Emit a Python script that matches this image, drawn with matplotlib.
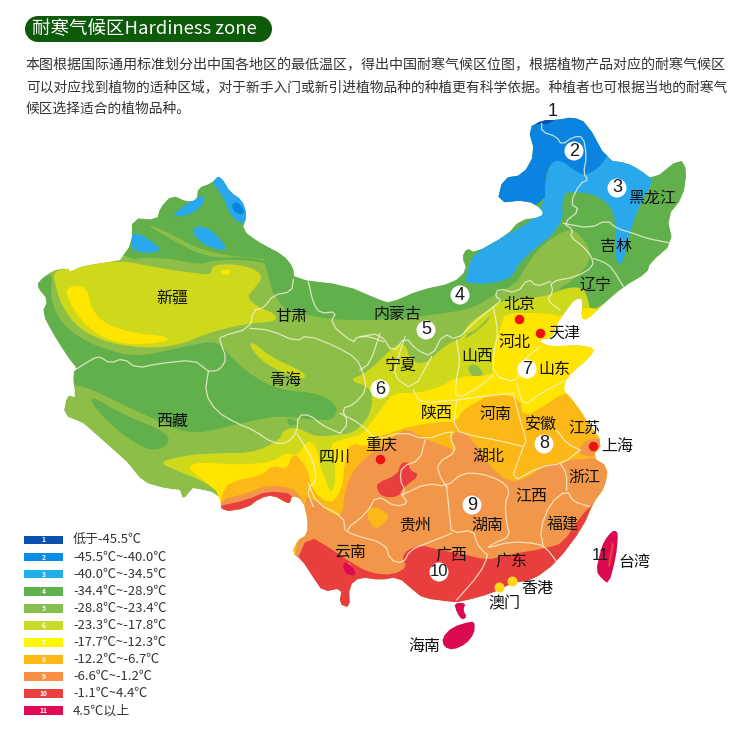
import numpy as np
import matplotlib
matplotlib.use("Agg")
import matplotlib.pyplot as plt
from matplotlib.patches import Polygon, Rectangle, Circle

plt.rcParams['font.family'] = ['Noto Sans CJK SC', 'DejaVu Sans']

# ---------- legend ----------
zone_ids = ['1','2','3','4','5','6','7','8','9','10','11']
zone_ranges = ['低于-45.5℃','-45.5℃~-40.0℃','-40.0℃~-34.5℃','-34.4℃~-28.9℃','-28.8℃~-23.4℃',
               '-23.3℃~-17.8℃','-17.7℃~-12.3℃','-12.2℃~-6.7℃','-6.6℃~-1.2℃','-1.1℃~4.4℃','4.5℃以上']
legend_colors = ['#0B52AE','#0A8CE4','#1FB0EC','#5FB24E','#86BE50','#C9DA2B','#FFF700','#FCB816','#F98F45','#E8403F','#DE0A52']
C = {1:'#0B4FAE',2:'#0A84E0',3:'#29A9EB',4:'#62B04B',5:'#8DBE47',6:'#CFD91C',7:'#FFE500',8:'#FBB816',9:'#F2964A',10:'#E93E3E',11:'#D90A50'}

# ---------- text ----------
title = '耐寒气候区Hardiness zone'
body = ['本图根据国际通用标准划分出中国各地区的最低温区，得出中国耐寒气候区位图，根据植物产品对应的耐寒气候区',
        '可以对应找到植物的适种区域，对于新手入门或新引进植物品种的种植更有科学依据。种植者也可根据当地的耐寒气',
        '候区选择适合的植物品种。']
body_sizes = [10.12, 9.9, 9.9]
province_names = ['新疆','甘肃','内蒙古','宁夏','青海','西藏','四川','重庆','陕西','河南','山西','河北','山东','北京','天津','辽宁','吉林','黑龙江','安徽','江苏','上海','湖北','浙江','江西','福建','湖南','贵州','云南','广西','广东','香港','澳门','海南','台湾']
province_x = [172,291,397,401,285,172,335,381,437,496,477,515,554,519,564,596,616,652,541,584,617,488,584,531,563,487,415,350,451,511,537,504,424,634]
province_y = [298,316,314,365,380,421,457,445,413,414,356,342,369,304,333,285,247,198,425,428,446,456,477,496,525,525,525,552,555,561,589,604,646,562]
marker_labels = ['1','2','3','4','5','6','7','8','9','10','11']
marker_x = [553,574,617,460,426,380,527,544,472,439,600]
marker_y = [112,151,188,295,330,389,369,444,505,572,556]
marker_circle = [0,1,1,1,1,1,1,1,1,1,0]
red_x, red_y = [519,540,380,593], [319,333,459,446]
yel_x, yel_y = [499,512], [587,581]

# ---------- map shapes (figure pixels, or crop coordinates via the helpers) ----------
def z3(p): return [(20+x/3, 160+y/3) for x, y in p]
def z4(p): return [(360+x/3, 100+y/3) for x, y in p]
def z5(p): return [(280+x/3, 380+y/3) for x, y in p]

outline = [(38,282),(53,270),(68,268),(70,272),(82,266),(120,260),(132,243),(132,218),(157,220),(160,208),(172,195),(187,202),(197,200),(198,188),(212,183),(218,176),(223,180),(230,192),(242,200),(247,215),(242,230),(260,243),(283,255),(293,267),(294,279),(345,285),(380,300),(390,303),(420,290),(453,283),(467,270),(462,257),(467,248),(475,253),(507,235),(520,220),(542,217),(543,210),(527,200),(497,203),(503,178),(523,175),(535,153),(528,128),(543,120),(557,120),(573,117),(587,123),(607,160),(627,163),(640,170),(653,180),(680,158),(687,170),(683,197),(667,217),(673,243),(650,263),(647,273),(623,287),(600,307),(587,320),(581,318),(583,298),(574,300),(566,311),(556,325),(552,338),(537,340),(550,347),(577,345),(595,348),(590,357),(567,377),(563,390),(570,397),(580,410),(588,423),(603,443),(592,457),(608,467),(605,487),(593,503),(583,527),(557,562),(533,580),(512,583),(493,593),(460,602),(452,602),(423,598),(413,590),(398,577),(380,580),(360,577),(349,586),(350,608),(339,604),(342,588),(323,592),(313,577),(302,560),(292,553),(298,540),(307,535),(308,520),(303,500),(292,495),(290,503),(287,503),(273,495),(260,498),(247,508),(222,512),(220,498),(212,492),(193,488),(183,500),(180,490),(163,488),(143,482),(127,462),(100,438),(83,423),(63,415),(67,395),(75,397),(73,373),(77,368),(70,360),(55,337),(42,313),(48,300),(38,288)]

z4_xj_north = z3([(290,300),(420,290),(540,315),(580,300),(700,300),(770,320),(780,350),(830,365),(900,100),(300,-100),(200,100)])
z5_xj_strip = z3([(375,190),(440,215),(560,280),(770,300),(775,315),(690,290),(560,295),(430,225)])
z4_sw = z3([(30,365),(100,335),(90,400),(110,470),(170,530),(260,570),(350,590),(450,570),(560,545),(600,550),(640,600),(700,650),(780,690),(900,700),(955,740),(940,780),(880,780),(810,770),(760,770),(660,790),(520,825),(430,790),(300,730),(165,665),(100,700),(30,600)])
z4_tibet = z3([(210,705),(300,760),(450,820),(440,860),(390,875),(300,820),(220,740)])
z4_blob = z3([(800,770),(840,790),(805,800)])
z4_north = z4([(-300,610),(-100,660),(40,660),(130,655),(250,640),(340,625),(410,580),(470,550),(490,510),(540,440),(620,385),(660,400),(700,470),(650,535),(580,575),(660,560),(670,620),(670,650),(800,620),(1200,400),(1200,-100),(-300,-100)])
z3_blobs = [z3([(340,210),(420,260),(415,278),(350,278),(330,255)]),
            z3([(460,165),(500,130),(555,100),(550,135),(510,165),(465,170)]),
            z3([(520,200),(560,200),(600,235),(625,275),(560,260),(520,225)]),
            z3([(575,68),(595,30),(625,80),(670,115),(695,170),(665,195),(630,165),(610,110)])]
z2_blob = z3([(635,130),(655,125),(675,155),(665,165),(640,155)])
z3_north = z4([(315,555),(450,545),(480,480),(610,380),(605,280),(650,275),(710,285),(765,330),(765,440),(770,490),(790,490),(805,410),(840,310),(885,240),(860,100),(600,100),(555,240),(555,290),(530,360),(345,450),(320,520)])
z2_north = z4([(380,-150),(900,-150),(745,178),(680,230),(640,210),(600,178),(570,190),(555,240),(555,320),(300,360)])
z1_north = z4([(520,72),(550,58),(590,55),(565,72),(545,72)])

z6_tarim = z3([(100,335),(145,325),(185,318),(300,300),(420,325),(530,340),(575,345),(575,315),(640,312),(700,325),(730,350),(700,390),(680,410),(710,440),(765,460),(770,485),(680,490),(560,520),(480,555),(380,565),(270,550),(180,510),(125,440),(105,370)])
z6_qh = z3([(685,550),(705,550),(750,590),(860,640),(850,660),(790,640),(720,600)])
z6_main = [(158,462),(187,455),(220,453),(253,453),(280,440),(283,430),(297,427),(315,437),(337,435),(353,433),(367,420),(373,403),(370,387),(348,380),(367,373),(395,345),(405,343),(410,360),(425,365),(445,345),(463,338),(466,325),(495,305),(505,300),(545,297),(565,288),(582,287),(588,298),(590,312),(610,300),(640,340),(640,560),(240,560),(222,495),(205,482),(175,470)]
z5_shanxi = z4([(315,720),(380,670),(395,640),(350,690),(320,700)])
z5_shanxi2 = z4([(318,800),(350,790),(375,830),(345,840)])
z6_sx = z5([(300,0),(350,-10),(345,30),(320,55)])
z7_sw = [(187,467),(200,462),(237,465),(273,462),(287,452),(297,457),(307,440),(317,447),(321,470),(327,482),(332,470),(330,445),(340,440),(353,437),(363,433),(373,420),(383,407),(393,393),(417,393),(440,387),(457,377),(493,375),(492,367),(493,348),(502,323),(505,313),(547,313),(560,317),(587,307),(600,310),(640,340),(640,560),(225,560),(222,495),(200,478)]
z6_sc = z3([(900,900),(930,1005),(948,970),(942,880),(915,870)])
z8_main = [(220,505),(222,493),(230,482),(263,475),(272,465),(287,470),(293,452),(307,467),(312,490),(330,505),(342,490),(345,460),(350,443),(367,447),(377,437),(400,430),(407,427),(437,422),(457,422),(462,410),(493,393),(520,398),(523,417),(543,407),(563,393),(573,397),(620,440),(620,560),(222,560)]
z9_main = [(303,495),(320,503),(330,513),(342,517),(345,490),(352,473),(360,463),(373,452),(383,445),(393,437),(407,428),(420,437),(447,447),(457,452),(450,437),(460,430),(473,440),(490,467),(510,483),(530,477),(543,465),(563,463),(568,460),(595,458),(640,460),(640,600),(290,600)]
z9_tibet = z3([(600,1020),(680,1000),(745,975),(820,985),(850,1020),(860,1070),(600,1070)])
z9_sh = [(576,453),(588,438),(608,440),(596,458)]
z8_gz = z5([(270,380),(300,385),(330,410),(310,430),(285,450),(260,410)])
z10_main = [(295,565),(308,535),(333,550),(350,562),(370,573),(393,575),(407,567),(402,558),(407,550),(420,545),(440,550),(467,555),(487,560),(507,555),(547,548),(563,543),(580,517),(595,502),(620,513),(620,620),(295,620)]
z10_tibet = [(215,507),(247,500),(267,491),(295,494),(295,515),(215,520)]
z10_gz = [(377,483),(397,475),(401,463),(408,462),(410,470),(420,475),(403,488),(398,497),(383,497),(377,490)]
z9_yn = [(345,563),(351,563),(353,576),(348,575)]
z11_yn = [(344,561),(353,567),(356,575),(349,576),(343,569)]
leizhou = [(454,603),(466,603),(463,610),(467,617),(462,620),(457,613)]
hainan = [(442,638),(452,627),(472,621),(475,624),(474,634),(466,644),(453,650),(444,647)]
taiwan = [(596,571),(600,553),(604,541),(612,531),(617,531),(618,537),(616,557),(609,584),(602,579)]
taiwan_in = [(612,541),(608,566),(610,567),(614,545)]

borders = [
 z3([(165,630),(220,595),(240,590),(270,610),(310,595),(350,625),(420,610),(520,600),(555,625),(565,635),(600,630),(620,595),(600,545),(600,530),(690,505),(700,450),(730,445),(760,405),(815,395),(820,358)]),
 z3([(565,635),(555,700),(590,755),(650,790),(700,810),(760,850),(800,850),(830,820),(835,765),(870,765),(905,795),(960,820)]),
 z3([(690,505),(750,510),(830,545),(860,525),(950,560),(1010,595),(1030,640),(1040,690),(1000,735),(965,745),(985,790),(960,820)]),
 z3([(830,820),(880,900),(890,960),(860,990),(880,1040)]),
 z3([(865,365),(880,430),(900,460),(950,455),(930,490),(1000,550),(1010,530),(1050,530),(1090,545)]),
 z4([(545,70),(545,95),(590,110),(605,135),(640,110),(670,110),(680,170),(670,220),(685,240),(660,250),(630,310),(660,330),(610,370),(640,390),(630,410),(670,440),(695,470),(700,500),(650,530),(570,545),(580,575),(560,600),(600,630)]),
 z4([(610,370),(690,385),(740,360),(770,385),(820,400),(860,415),(935,430)]),
 z4([(700,475),(740,490),(760,510),(790,560)]),
 z4([(570,545),(530,560),(505,535),(470,580),(415,565),(405,590),(425,600),(400,620),(340,670),(290,720),(250,700),(215,770),(170,750),(135,710),(100,760),(60,700),(0,710)]),
 z4([(135,710),(115,770),(100,830),(160,870),(215,770)]),
 z4([(0,810),(30,790),(60,700)]),
 z4([(400,620),(415,700),(400,760),(400,825),(470,850),(480,790),(540,740)]),
 z4([(290,720),(300,790),(290,830),(285,900),(360,860),(400,825)]),
 z4([(160,870),(180,910),(285,900)]),
 z4([(470,850),(490,920),(540,880),(620,840)]),
 z5([(180,100),(240,130),(290,180),(370,155),(435,180),(520,150),(510,175),(530,215),(470,250),(480,290),(500,320)]),
 z5([(530,60),(520,150),(590,170),(650,180),(730,200)]),
 z5([(530,60),(600,50),(700,40)]),
 z5([(700,40),(720,120),(740,180),(730,200),(690,310),(780,260),(850,250),(900,210)]),
 z5([(800,130),(830,150),(860,190),(900,210)]),
 z5([(435,180),(420,240),(365,260),(360,300),(375,330),(365,345),(385,370),(345,380),(290,345),(260,400),(195,450),(220,465),(315,490),(330,540),(370,550),(390,510),(440,490),(515,460)]),
 z5([(365,345),(440,310),(500,320),(545,280),(600,280),(660,300),(690,330),(675,370),(680,430),(690,470),(640,490),(620,505),(690,485),(770,490),(800,505),(830,545)]),
 z5([(500,320),(510,420),(515,460),(580,450),(590,490),(615,520),(625,525),(600,580),(530,660)]),
 z5([(790,500),(780,450),(810,370),(860,330),(880,365),(930,380)]),
 z5([(860,330),(860,280),(840,250)]),
 z5([(85,310),(110,370),(190,410),(195,450)]),
]

def chaikin(pts, n=2):
    p = np.asarray(pts, float)
    for _ in range(n):
        q = np.roll(p, -1, axis=0)
        p = np.column_stack([0.75*p + 0.25*q, 0.25*p + 0.75*q]).reshape(-1, 2)
    return p

def chaikin_open(pts, n=1):
    p = np.asarray(pts, float)
    for _ in range(n):
        a, b = p[:-1], p[1:]
        mid = np.column_stack([0.75*a + 0.25*b, 0.25*a + 0.75*b]).reshape(-1, 2)
        p = np.vstack([p[0], mid, p[-1]])
    return p

fig = plt.figure(figsize=(7.5, 7.3), dpi=100)
ax = fig.add_axes([0, 0, 1, 1])
ax.set_xlim(0, 750); ax.set_ylim(730, 0); ax.axis('off')

clip = Polygon(chaikin(outline, 1), closed=True, transform=ax.transData, fc='none', ec='none')
ax.add_patch(clip)

def fill(pts, zone, smooth=2, z=2):
    patch = Polygon(chaikin(pts, smooth), closed=True, fc=C[zone], ec='none', zorder=z)
    ax.add_patch(patch)
    patch.set_clip_path(clip)

fill(outline, 5, smooth=0, z=1)
layers = [(z4_xj_north,4),(z5_xj_strip,5),(z4_sw,4),(z4_tibet,4),(z4_blob,4),(z4_north,4),
          (z3_blobs[0],3),(z3_blobs[1],3),(z3_blobs[2],3),(z3_blobs[3],3),(z2_blob,2),
          (z3_north,3),(z2_north,2),(z1_north,1),
          (z6_tarim,6),(z6_qh,6),(z6_main,6),(z5_shanxi,5),(z5_shanxi2,5),
          (z7_sw,7),(z6_sx,6),(z6_sc,6),(z8_main,8),(z9_tibet,9),(z9_main,9),(z9_sh,9),(z8_gz,8),
          (z10_main,10),(z10_tibet,10),(z10_gz,10),(z9_yn,9),(z11_yn,11)]
for i, (pts, zone) in enumerate(layers):
    fill(pts, zone, smooth=1 if zone >= 7 else 2, z=2+i*0.01)

tarim_y = z3([(135,385),(180,375),(205,395),(215,450),(260,495),(345,520),(445,530),(440,545),(340,555),(260,540),(190,490),(150,430)])
fill(tarim_y, 7, z=2.5)
fill(z3([(600,330),(635,330),(625,345),(605,343)]), 7, z=2.5)

for pts, zone, smooth in [(leizhou,11,1),(hainan,11,1),(taiwan,11,1),(taiwan_in,10,0)]:
    ax.add_patch(Polygon(chaikin(pts, smooth), closed=True, fc=C[zone], ec='none', zorder=3))

for line in borders:
    arr = chaikin_open(line, 1)
    ln, = ax.plot(arr[:,0], arr[:,1], color='#F3F5D8', lw=0.9, alpha=.8, zorder=4, solid_joinstyle='round')
    ln.set_clip_path(clip)

# dots and zone markers
ax.scatter(red_x, red_y, s=47, c='#EE1111', zorder=5, linewidths=0)
ax.scatter(yel_x, yel_y, s=52, c='#FFD51E', zorder=5, linewidths=0)
for lab, x, y, circ in zip(marker_labels, marker_x, marker_y, marker_circle):
    if circ:
        ax.add_patch(Circle((x, y), 9.5, fc='white', ec='none', zorder=5))
    ax.text(x, y, lab, fontsize=13 if len(lab) == 1 else 12, ha='center', va='center', color='#1a1a1a',
            family=['Liberation Sans','DejaVu Sans'], zorder=6)
for name, x, y in zip(province_names, province_x, province_y):
    ax.text(x, y, name, fontsize=11.5, ha='center', va='center', color='#111111', zorder=7)

# header
ax.add_patch(Rectangle((38, 16), 221, 26, fc='#0E5A0B', ec='none'))
ax.add_patch(Circle((38, 29), 13, fc='#0E5A0B', ec='none'))
ax.add_patch(Circle((259, 29), 13, fc='#0E5A0B', ec='none'))
ax.text(32, 29, title, fontsize=13.3, color='white', ha='left', va='center', fontweight='medium', zorder=3)
for t, y, fs in zip(body, [65, 87, 109], body_sizes):
    ax.text(26, y, t, fontsize=fs, color='#333333', ha='left', va='center')

# legend
for i, (zid, lab, col) in enumerate(zip(zone_ids, zone_ranges, legend_colors)):
    y = 540 + i*17.07
    ax.add_patch(Rectangle((24, y-4.3), 39, 8.6, fc=col, ec='none'))
    ax.text(43.5, y, zid, fontsize=4.8, color='white', ha='center', va='center', fontweight='bold')
    ax.text(73, y, lab, fontsize=9.4, color='#333333', ha='left', va='center')

fig.savefig('out.png', dpi=100, facecolor='white')
